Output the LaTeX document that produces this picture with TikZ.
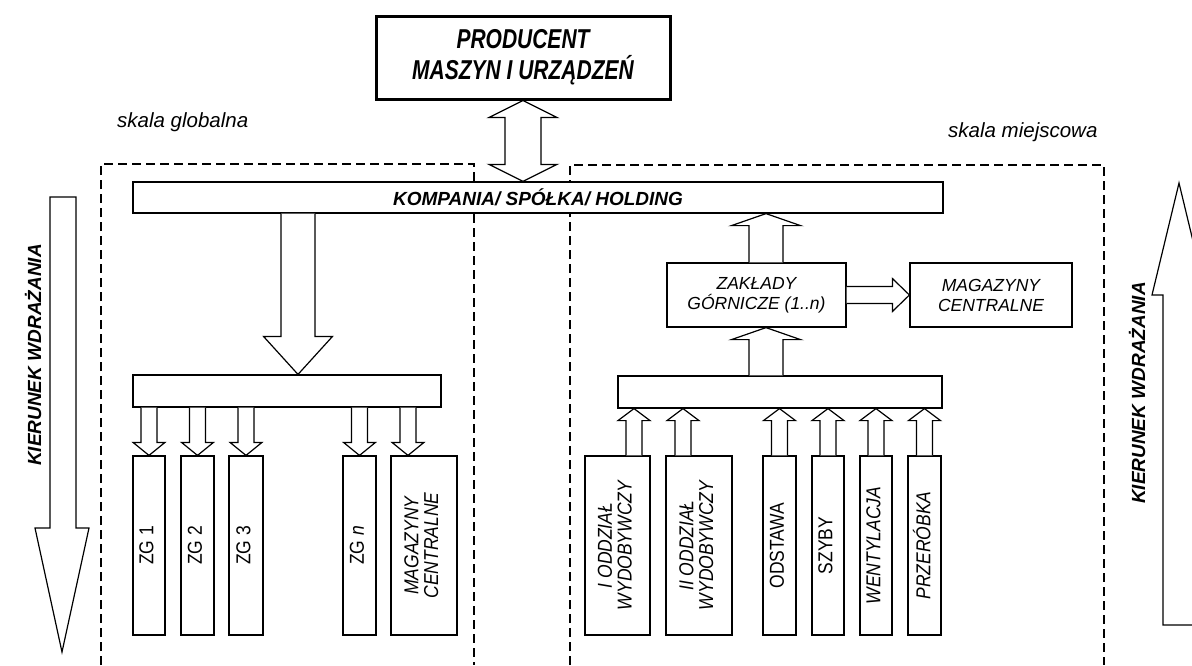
\documentclass[tikz,border=0pt]{standalone}
\usepackage{fontspec}
\setmainfont{Liberation Sans}
\usepackage{graphicx}
\usetikzlibrary{calc}

% vertical block arrow: #1 start (only y used), #2 tip, #3 shaft half width, #4 head half width, #5 head length
\newcommand\varrow[5]{%
  \draw[blockarrow] let \p1=#1, \p2=#2, \n2={\y2-sign(\y2-\y1)*#5pt} in
    ({\x2-#3pt},\y1) -- ({\x2-#3pt},\n2) -- ({\x2-#4pt},\n2) -- (\x2,\y2)
    -- ({\x2+#4pt},\n2) -- ({\x2+#3pt},\n2) -- ({\x2+#3pt},\y1);}
% horizontal block arrow
\newcommand\harrow[5]{%
  \draw[blockarrow] let \p1=#1, \p2=#2, \n2={\x2-sign(\x2-\x1)*#5pt} in
    (\x1,{\y2-#3pt}) -- (\n2,{\y2-#3pt}) -- (\n2,{\y2-#4pt}) -- (\x2,\y2)
    -- (\n2,{\y2+#4pt}) -- (\n2,{\y2+#3pt}) -- (\x1,{\y2+#3pt});}
\newcommand\vtxt[1]{\rotatebox{90}{\scalebox{1}[1.15]{\begin{tabular}{@{}c@{}}#1\end{tabular}}}}

\tikzset{
  nbox/.style={draw, line width=1.2pt, fill=white, inner sep=0pt, align=center,
    font=\fontsize{17.5}{20}\selectfont\itshape},
  tallbox/.style={nbox, minimum width=#1, minimum height=179pt,
    font=\fontsize{17.5}{16}\selectfont\itshape},
  fup/.style={font=\fontsize{17.5}{16}\selectfont\upshape},
  fbig/.style={font=\fontsize{21}{17}\selectfont\bfseries\itshape},
  fbold/.style={font=\fontsize{19}{21}\selectfont\bfseries\itshape},
  fscale/.style={font=\fontsize{20.5}{23}\selectfont\itshape, inner sep=0pt},
  blockarrow/.style={draw, line width=1.2pt, fill=white, line join=miter},
  dashbox/.style={line width=2pt, dash pattern=on 9pt off 5pt},
}

\begin{document}
\begin{tikzpicture}[x=1pt,y=-1pt]
\useasboundingbox (0,0) rectangle (1192,665);
\clip (0,0) rectangle (1192,665);

% dashed regions
\draw[dashbox] (101,665) -- (101,164) -- (474,164) -- (474,665);
\draw[dashbox] (570,665) -- (570,165) -- (1104,165) -- (1104,665);

% scale labels
\node[fscale, anchor=base west] (sg) at (117,127) {skala globalna};
\node[fscale, anchor=base west] (sm) at (948,137) {skala miejscowa};

% side direction arrows
\draw[blockarrow] (50,197) -- (76,197) -- (76,528) -- (89,528) -- (62,652) -- (35,528) -- (50,528) -- cycle;
\draw[blockarrow] (1163,625) -- (1163,295) -- (1152,295) -- (1179,183) -- (1206,295) -- (1195,295) -- (1195,625) -- cycle;
\node[fbold, rotate=90] (kl) at (33,355) {KIERUNEK WDRAŻANIA};
\node[fbold, rotate=90] (kr) at (1137,393) {KIERUNEK WDRAŻANIA};

% main boxes
\node[nbox, line width=3pt, minimum width=294pt, minimum height=83pt, fbig] (producent) at (523,57.5)
  {\scalebox{1}[1.3]{\begin{tabular}{@{}c@{}}PRODUCENT\\MASZYN I URZĄDZEŃ\end{tabular}}};
\node[nbox, minimum width=810pt, minimum height=31pt, fbold] (kompania) at (538,197.5) {KOMPANIA/ SPÓŁKA/ HOLDING};
\node[nbox, minimum width=308pt, minimum height=32pt] (lbar) at (287,391) {};
\node[nbox, minimum width=324pt, minimum height=32pt] (rbar) at (780,392) {};
\node[nbox, minimum width=179pt, minimum height=64pt] (zaklady) at (756.5,295) {ZAKŁADY\\GÓRNICZE (1..n)};
\node[nbox, minimum width=162pt, minimum height=64pt] (magr) at (991,295) {MAGAZYNY\\CENTRALNE};

% left tall boxes
\node[tallbox=32pt, fup] (zg1) at (149,545.5) {\vtxt{ZG 1}};
\node[tallbox=33pt, fup] (zg2) at (197.5,545.5) {\vtxt{ZG 2}};
\node[tallbox=34pt, fup] (zg3) at (246,545.5) {\vtxt{ZG 3}};
\node[tallbox=33pt, fup] (zgn) at (359.5,545.5) {\vtxt{ZG \textit{n}}};
\node[tallbox=66pt] (magl) at (424,545.5) {\vtxt{MAGAZYNY\\CENTRALNE}};

% right tall boxes
\node[tallbox=65pt] (odd1) at (617.5,545.5) {\vtxt{I ODDZIAŁ\\WYDOBYWCZY}};
\node[tallbox=66pt] (odd2) at (699,545.5) {\vtxt{II ODDZIAŁ\\WYDOBYWCZY}};
\node[tallbox=33pt, fup] (odst) at (779.5,545.5) {\vtxt{ODSTAWA}};
\node[tallbox=32pt, fup] (szyby) at (828,545.5) {\vtxt{SZYBY}};
\node[tallbox=32pt] (went) at (876,545.5) {\vtxt{WENTYLACJA}};
\node[tallbox=33pt] (prz) at (924.5,545.5) {\vtxt{PRZERÓBKA}};

% helper coordinates for off-centre arrows
\coordinate (kt) at ($(lbar.north)+(11,0)$);
\coordinate (ua) at ($(zaklady.north)+(9.5,0)$);
\coordinate (ub) at ($(zaklady.south)+(9.5,0)$);
\coordinate (ml) at ($(magl.north)+(-16,0)$);
\coordinate (o1) at ($(odd1.north)+(16.5,0)$);
\coordinate (o2) at ($(odd2.north)+(-16,0)$);

% producent <-> kompania double arrow
\draw[blockarrow] let \p1=(producent.south), \p2=(kompania.north -| producent.south) in
  (\x1,\y1) -- ({\x1+34pt},{\y1-17pt}) -- ({\x1+18pt},{\y1-17pt}) -- ({\x1+18pt},{\y2+17pt})
  -- ({\x1+34pt},{\y2+17pt}) -- (\x2,\y2) -- ({\x1-34pt},{\y2+17pt}) -- ({\x1-18pt},{\y2+17pt})
  -- ({\x1-18pt},{\y1-17pt}) -- ({\x1-34pt},{\y1-17pt}) -- cycle;

% kompania -> left bar
\varrow{(kompania.south)}{(kt)}{17}{34.5}{38}
% left bar -> ZG boxes
\varrow{(lbar.south)}{(zg1.north)}{8}{16}{13}
\varrow{(lbar.south)}{(zg2.north)}{8}{16}{13}
\varrow{(lbar.south)}{(zg3.north)}{8}{16}{13}
\varrow{(lbar.south)}{(zgn.north)}{8}{16}{13}
\varrow{(lbar.south)}{(ml)}{8}{16}{13}

% right side upward flow
\varrow{(zaklady.north)}{(ua |- kompania.south)}{17}{34.5}{12}
\varrow{(rbar.north)}{(ub)}{17}{34.5}{12}
\harrow{(zaklady.east)}{(magr.west)}{8.5}{16.5}{17}
\varrow{(odd1.north)}{(o1 |- rbar.south)}{8}{16}{12}
\varrow{(odd2.north)}{(o2 |- rbar.south)}{8}{16}{12}
\varrow{(odst.north)}{(odst.north |- rbar.south)}{8}{16}{12}
\varrow{(szyby.north)}{(szyby.north |- rbar.south)}{8}{16}{12}
\varrow{(went.north)}{(went.north |- rbar.south)}{8}{16}{12}
\varrow{(prz.north)}{(prz.north |- rbar.south)}{8}{16}{12}
\end{tikzpicture}
\end{document}
